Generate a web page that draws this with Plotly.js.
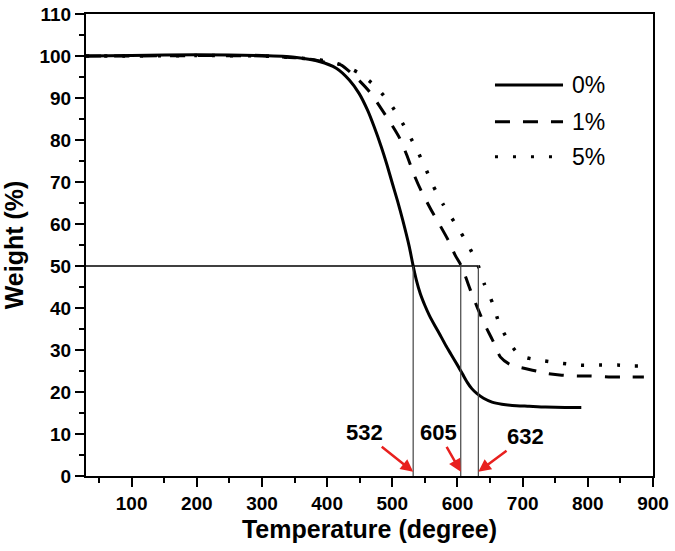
<!DOCTYPE html>
<html>
<head>
<meta charset="utf-8">
<script src="https://cdn.plot.ly/plotly-3.0.1.min.js"></script>
<style>html,body{margin:0;padding:0;background:#fff;}#chart{width:675px;height:551px;}</style>
</head>
<body>
<div id="chart"></div>
<script>
// ---- data ----
const seriesNames = ["0%", "1%", "5%"];

const temp0 = [30, 100, 200, 300, 350, 388, 414, 434, 449, 462, 472, 483, 492, 500, 508, 516, 526, 532, 537, 543, 550, 557, 566, 574, 582, 590, 600, 608, 615, 622, 630, 640, 653, 668, 684, 710, 735, 765, 790];
const weight0 = [100, 100.1, 100.3, 100.1, 99.7, 98.7, 97.1, 94.3, 91.1, 87.1, 83.2, 78.4, 74.0, 69.7, 65.5, 60.9, 54.6, 50.0, 46.6, 43.4, 40.6, 38.2, 35.6, 33.4, 31.1, 29.0, 26.4, 24.2, 22.3, 20.8, 19.6, 18.5, 17.6, 17.1, 16.8, 16.6, 16.4, 16.3, 16.3];

const temp1 = [30, 100, 200, 300, 350, 380, 403, 421, 447, 465, 485, 500, 511, 522, 534, 544, 559, 572, 587, 597, 606, 620, 631, 641, 654, 666, 680, 692, 715, 738, 760, 783, 803, 832, 853, 886];
const weight1 = [100, 100, 100.1, 100, 99.6, 99.1, 98.3, 97.9, 94.5, 91.5, 87.0, 83.4, 80.5, 76.5, 71.5, 68.0, 63.5, 60.0, 55.8, 52.4, 50.0, 44.2, 39.9, 36.3, 32.3, 28.3, 26.6, 26.0, 25.2, 24.4, 24.0, 23.8, 23.8, 23.6, 23.6, 23.6];

const temp5 = [30, 100, 200, 300, 350, 380, 400, 420, 447, 475, 500, 518, 534, 549, 562, 578, 597, 615, 632, 641, 654, 664, 679, 692, 705, 733, 761, 789, 817, 845, 870, 885];
const weight5 = [100, 100, 100.1, 100, 99.6, 99.2, 98.8, 98.0, 96.1, 92.7, 87.9, 83.4, 78.8, 74.0, 69.3, 64.7, 60.0, 55.4, 50.0, 45.8, 41.1, 36.3, 31.9, 29.3, 28.2, 27.4, 26.8, 26.4, 26.4, 26.4, 26.2, 26.2];

const halfLossTemps = [532, 605, 632];
const halfLossLevel = 50;

// ---- styles ----
const FONT = "Liberation Sans, Arial, sans-serif";
const dashStyles = ["solid", "15px,13px", "3px,15px"];
const lineWidths = [3, 3, 3.5];
const xs = [temp0, temp1, temp5];
const ys = [weight0, weight1, weight5];

const traces = seriesNames.map((n, i) => ({
  type: "scatter", mode: "lines", name: n,
  x: xs[i], y: ys[i],
  line: {color: "#000", width: lineWidths[i], dash: dashStyles[i], shape: "spline", smoothing: 0.6},
  showlegend: false, hoverinfo: "skip"
}));

const shapes = [];
// horizontal 50% line
shapes.push({type: "line", xref: "x", yref: "y", x0: 30, x1: halfLossTemps[2], y0: halfLossLevel, y1: halfLossLevel,
  line: {color: "#000", width: 1.3}});
halfLossTemps.forEach(t => shapes.push({type: "line", xref: "x", yref: "y", x0: t, x1: t, y0: 0, y1: halfLossLevel,
  line: {color: "#444", width: 1.2}}));

// legend (drawn manually to match long sample lines)
const legY = [0.8463, 0.7669, 0.6911];
const annotations = [];
seriesNames.forEach((n, i) => {
  shapes.push({type: "line", xref: "paper", yref: "paper", x0: 0.7213, x1: 0.8413, y0: legY[i], y1: legY[i],
    line: {color: "#000", width: 3, dash: dashStyles[i]}});
  annotations.push({xref: "paper", yref: "paper", x: 0.8536, y: legY[i], xanchor: "left", yanchor: "middle",
    text: n, showarrow: false, font: {family: FONT, size: 23, color: "#000"}});
});

// arrow labels
const arrowOffsets = [[-49, -39], [-22, -39], [47, -35]];
halfLossTemps.forEach((t, i) => annotations.push({
  x: t, y: 1, xref: "x", yref: "y", text: String(t),
  showarrow: true, arrowhead: 2, arrowsize: 1, arrowwidth: 2.5, arrowcolor: "#e8201e", standoff: 0,
  ax: arrowOffsets[i][0], ay: arrowOffsets[i][1],
  font: {family: FONT, size: 22, color: "#000", weight: "bold"}
}));

const axisCommon = {
  showline: true, linecolor: "#000", linewidth: 2, mirror: true,
  ticks: "outside", ticklen: 9, tickwidth: 2, tickcolor: "#000",
  showgrid: false, zeroline: false,
  tickfont: {family: FONT, size: 19, color: "#000", weight: "bold"}
};

const layout = {
  width: 675, height: 551,
  margin: {l: 86, r: 22, t: 14, b: 75},
  paper_bgcolor: "#fff", plot_bgcolor: "#fff",
  showlegend: false,
  xaxis: Object.assign({}, axisCommon, {
    range: [30, 900], tick0: 0, dtick: 100,
    minor: {ticks: "outside", ticklen: 5, tickwidth: 2, tickcolor: "#000", dtick: 50, tick0: 0},
    title: {text: "Temperature (degree)", font: {family: FONT, size: 25, color: "#000", weight: "bold"}, standoff: 8}
  }),
  yaxis: Object.assign({}, axisCommon, {
    range: [0, 110], tick0: 0, dtick: 10,
    minor: {ticks: "outside", ticklen: 5, tickwidth: 2, tickcolor: "#000", dtick: 5, tick0: 0},
    title: {text: "Weight (%)", font: {family: FONT, size: 25, color: "#000", weight: "bold"}, standoff: 9}
  }),
  shapes: shapes,
  annotations: annotations
};

Plotly.newPlot("chart", traces, layout, {staticPlot: true, displayModeBar: false});
</script>
</body>
</html>
